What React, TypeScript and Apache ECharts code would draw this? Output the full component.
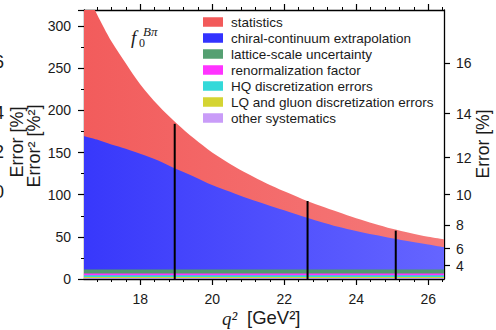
import React, { useEffect, useRef } from "react";
import * as echarts from "echarts";

// q^2 sample points [GeV^2]
const q2 = [16.44, 16.8, 17.2, 17.6, 18.0, 18.5, 19.0, 19.5, 20.0, 20.5, 21.0, 21.5, 22.0, 22.5, 23.0, 23.5, 24.0, 24.5, 25.0, 25.5, 26.0, 26.44];

// Error^2 contributions [%^2], bottom of stack first
const otherSyst = [1.2, 1.2, 1.2, 1.2, 1.2, 1.2, 1.2, 1.2, 1.2, 1.2, 1.2, 1.2, 1.2, 1.2, 1.2, 1.2, 1.2, 1.2, 1.2, 1.2, 1.2, 1.2];
const lqGluon = [1.2, 1.2, 1.2, 1.2, 1.2, 1.2, 1.2, 1.2, 1.2, 1.2, 1.2, 1.2, 1.2, 1.2, 1.2, 1.2, 1.2, 1.2, 1.2, 1.2, 1.2, 1.2];
const hqDisc = [2, 2, 2, 2, 2, 2, 2, 2, 2, 2, 2, 2, 2, 2, 2, 2, 2, 2, 2, 2, 2, 2];
const renorm = [2, 2, 2, 2, 2, 2, 2, 2, 2, 2, 2, 2, 2, 2, 2, 2, 2, 2, 2, 2, 2, 2];
const latticeScale = [5, 5, 5, 5, 5, 5, 5, 5, 5, 5, 5, 5, 5, 5, 5, 5, 5, 5, 5, 5, 5, 5];
const chiral = [158, 154, 148, 143, 137, 129, 119, 110, 100, 92, 84, 77, 70, 63.1, 56.6, 50.6, 45.6, 41.1, 37, 33.2, 29.6, 26.4];
const statistics = [177.6, 148.6, 122.6, 101.6, 82.6, 65.6, 54.6, 45.1, 38.6, 33.1, 29.1, 25.1, 22.6, 20.5, 19, 17.5, 15, 13, 11.1, 9.9, 9, 9.2];

// black marker lines (q^2, total error^2)
const markerQ2 = [18.96, 22.65, 25.1];
const markerTotal = [184, 92.5, 57.3];

// ticks
const xMajorTicks = [18, 20, 22, 24, 26];
const xMinorTicks = [16.8, 17.2, 17.6, 18.0, 18.4, 18.8, 19.2, 19.6, 20.0, 20.4, 20.8, 21.2, 21.6, 22.0, 22.4, 22.8, 23.2, 23.6, 24.0, 24.4, 24.8, 25.2, 25.6, 26.0, 26.4];
const rightTickLabels = [4, 6, 8, 10, 12, 14, 16];
const leftClippedLabels = ["6", "4", "2", "0"];

const legendNames = [
  "statistics",
  "chiral-continuum extrapolation",
  "lattice-scale uncertainty",
  "renormalization factor",
  "HQ discretization errors",
  "LQ and gluon discretization errors",
  "other systematics",
];

const X_MIN = 16.44;
const X_MAX = 26.44;
const Y_MAX = 319;

function hgrad(a: string, b: string) {
  return new echarts.graphic.LinearGradient(0, 0, 1, 0, [
    { offset: 0, color: a },
    { offset: 1, color: b },
  ]);
}

export default function App() {
  const ref = useRef<HTMLDivElement>(null);
  useEffect(() => {
    if (!ref.current) return;
    const chart = echarts.init(ref.current, undefined, { renderer: "svg" });
    const font = "Liberation Sans";
    const txt = "#1a1a1a";

    // bottom of stack first
    const stackDefs = [
      { name: "other systematics", data: otherSyst, color: "#c99cf8", area: "#a98ad2" },
      { name: "LQ and gluon discretization errors", data: lqGluon, color: "#d4d433", area: "#d4d433" },
      { name: "HQ discretization errors", data: hqDisc, color: "#33d9d9", area: "#33d9d9" },
      { name: "renormalization factor", data: renorm, color: "#ff33ff", area: "#ff33ff" },
      { name: "lattice-scale uncertainty", data: latticeScale, color: "#55a072", area: "#4f9a6e" },
      { name: "chiral-continuum extrapolation", data: chiral, color: "#3333ff", area: hgrad("#3838fb", "#6565ff") },
      { name: "statistics", data: statistics, color: "#f25a5a", area: hgrad("#f25c5c", "#f57a7a") },
    ];

    // cumulative tops; draw the largest first so lower layers paint over it
    const running = q2.map(() => 0);
    const layers = stackDefs.map((s) => {
      const top = s.data.map((v, i) => (running[i] += v));
      return { ...s, top };
    });

    const series: any[] = layers
      .slice()
      .reverse()
      .map((s) => ({
        name: s.name,
        type: "line",
        xAxisIndex: 0,
        yAxisIndex: 0,
        showSymbol: false,
        symbol: "none",
        smooth: 0.3,
        color: s.color,
        itemStyle: { color: s.color },
        lineStyle: { width: 0, color: s.color },
        areaStyle: { color: s.area, opacity: 1, origin: 0 },
        data: q2.map((x, i) => [x, s.top[i]]),
        z: 2,
      }));

    series.push({
      name: "markers",
      type: "bar",
      xAxisIndex: 0,
      yAxisIndex: 0,
      barWidth: 2,
      itemStyle: { color: "#000" },
      data: markerQ2.map((x, i) => [x, markerTotal[i]]),
      z: 5,
    });

    const axisLine = { show: true, lineStyle: { color: "#000", width: 1.3 } };

    const graphicText = (text: string, x: number, y: number, size: number, opts: any = {}) => ({
      type: "text",
      x,
      y,
      rotation: opts.rotation || 0,
      silent: true,
      z: 10,
      style: {
        text,
        fill: txt,
        fontSize: size,
        fontFamily: opts.family || font,
        fontStyle: opts.italic ? "italic" : "normal",
        align: opts.align || "center",
        textAlign: opts.align || "center",
        verticalAlign: opts.valign || "middle",
        textVerticalAlign: opts.valign || "middle",
      },
    });

    const graphics: any[] = [
      graphicText("Error [%]", 16.5, 142, 18, { rotation: Math.PI / 2 }),
      graphicText("Error² [%²]", 34, 146, 18, { rotation: Math.PI / 2 }),
      graphicText("Error [%]", 483, 144, 17.5, { rotation: Math.PI / 2 }),
      graphicText("q²", 222, 318, 19, { family: "Liberation Serif", italic: true, align: "left" }),
      graphicText("[GeV²]", 247, 317, 18.5, { align: "left" }),
      graphicText("f", 131, 37, 19, { family: "Liberation Serif", italic: true, align: "left" }),
      graphicText("Bπ", 143, 31, 13, { family: "Liberation Serif", italic: true, align: "left" }),
      graphicText("0", 139, 43, 12, { family: "Liberation Serif", align: "left" }),
    ];
    const clippedY = [62, 113, 152, 192];
    leftClippedLabels.forEach((t, i) => graphics.push(graphicText(t, 4, clippedY[i], 18, { align: "right" })));

    const option: any = {
      animation: false,
      backgroundColor: "#fff",
      grid: { left: 84, right: 52, top: 10, bottom: 51, containLabel: false },
      legend: {
        data: legendNames,
        orient: "vertical",
        left: 203,
        top: 14,
        icon: "rect",
        itemWidth: 20,
        itemHeight: 9.5,
        itemGap: 0,
        padding: 0,
        selectedMode: false,
        itemStyle: { borderWidth: 0 },
        lineStyle: { width: 0 },
        textStyle: { fontFamily: font, fontSize: 13.5, color: txt, lineHeight: 16, padding: [0, 0, 0, 3] },
      },
      xAxis: [
        {
          type: "value", position: "bottom", min: X_MIN, max: X_MAX,
          axisLine, splitLine: { show: false },
          axisTick: { show: true, length: 6, customValues: xMajorTicks, lineStyle: { color: "#000", width: 1.2 } },
          axisLabel: { show: true, customValues: xMajorTicks, margin: 13, fontFamily: font, fontSize: 14, color: txt },
        },
        {
          type: "value", position: "bottom", min: X_MIN, max: X_MAX,
          axisLine: { show: false }, splitLine: { show: false },
          axisTick: { show: true, length: 3, customValues: xMinorTicks, lineStyle: { color: "#000", width: 1 } },
          axisLabel: { show: false },
        },
        {
          type: "value", position: "top", min: X_MIN, max: X_MAX,
          axisLine, splitLine: { show: false },
          axisTick: { show: true, length: 6, customValues: xMajorTicks, lineStyle: { color: "#000", width: 1.2 } },
          axisLabel: { show: false },
        },
        {
          type: "value", position: "top", min: X_MIN, max: X_MAX,
          axisLine: { show: false }, splitLine: { show: false },
          axisTick: { show: true, length: 3, customValues: xMinorTicks, lineStyle: { color: "#000", width: 1 } },
          axisLabel: { show: false },
        },
      ],
      yAxis: [
        {
          type: "value", position: "left", min: 0, max: Y_MAX, interval: 50,
          axisLine, splitLine: { show: false },
          axisTick: { show: true, length: 6, lineStyle: { color: "#000", width: 1.2 } },
          minorTick: { show: true, splitNumber: 2, length: 3, lineStyle: { color: "#000", width: 1 } },
          minorSplitLine: { show: false },
          axisLabel: { margin: 13, fontFamily: font, fontSize: 14, color: txt, showMaxLabel: false },
        },
        {
          type: "value", position: "right", min: 0, max: Y_MAX,
          axisLine, splitLine: { show: false },
          axisTick: { show: true, length: 6, customValues: rightTickLabels.map((v) => v * v), lineStyle: { color: "#000", width: 1.2 } },
          axisLabel: {
            customValues: rightTickLabels.map((v) => v * v),
            formatter: (v: number) => String(Math.round(Math.sqrt(v))),
            margin: 12, fontFamily: font, fontSize: 14, color: txt,
          },
        },
      ],
      series,
      graphic: graphics,
    };
    chart.setOption(option);
    return () => chart.dispose();
  }, []);
  return <div ref={ref} style={{ width: 496, height: 330, position: "absolute", left: 0, top: 0 }} />;
}
